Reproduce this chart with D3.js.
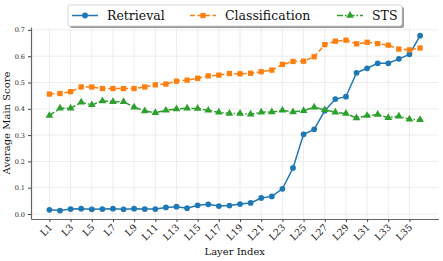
<!DOCTYPE html>
<meta charset="utf-8">
<script src="https://d3js.org/d3.v7.min.js"></script>
<style>
  body { margin: 0; background: #fff; }
  svg text { font-family: "DejaVu Serif", "Liberation Serif", serif; }
</style>
<div id="chart"></div>
<script>

// layer names and the three series
const layers = d3.range(1, 37).map(function(i) { return "L" + i; });

const retrieval = [0.016, 0.013, 0.019, 0.020, 0.018, 0.019, 0.020, 0.018, 0.020, 0.019,
  0.019, 0.025, 0.028, 0.022, 0.033, 0.037, 0.030, 0.032, 0.038, 0.042,
  0.061, 0.067, 0.096, 0.175, 0.303, 0.322, 0.393, 0.437, 0.446, 0.537,
  0.554, 0.573, 0.573, 0.590, 0.607, 0.678];

const classification = [0.456, 0.458, 0.465, 0.483, 0.483, 0.477, 0.477, 0.477, 0.477, 0.483,
  0.491, 0.494, 0.505, 0.509, 0.516, 0.525, 0.528, 0.534, 0.533, 0.535,
  0.541, 0.547, 0.569, 0.580, 0.581, 0.598, 0.644, 0.657, 0.661, 0.647,
  0.653, 0.648, 0.642, 0.627, 0.624, 0.631];

const sts = [0.374, 0.402, 0.402, 0.425, 0.415, 0.430, 0.427, 0.427, 0.406, 0.392,
  0.385, 0.394, 0.399, 0.402, 0.401, 0.394, 0.387, 0.382, 0.382, 0.379,
  0.387, 0.388, 0.394, 0.388, 0.393, 0.406, 0.396, 0.387, 0.382, 0.365,
  0.374, 0.378, 0.366, 0.372, 0.360, 0.358];

const yTicks = [0.0, 0.1, 0.2, 0.3, 0.4, 0.5, 0.6, 0.7];

const series = [
  {name: "Retrieval", values: retrieval, color: "#1f77b4", dash: null, marker: d3.symbolCircle, size: 26},
  {name: "Classification", values: classification, color: "#ff7f0e", dash: "5,2.5", marker: d3.symbolSquare, size: 28},
  {name: "STS", values: sts, color: "#2ca02c", dash: "6,2,1.5,2", marker: d3.symbolTriangle, size: 26}
];

const W = 443, H = 261;
const margin = {top: 27, right: 4.5, bottom: 42, left: 31};
const serif = "DejaVu Serif, Liberation Serif, serif";

const svg = d3.select("#chart").append("svg")
  .attr("width", W)
  .attr("height", H)
  .attr("font-family", serif);

const x = d3.scalePoint()
  .domain(layers)
  .range([margin.left, W - margin.right])
  .padding(1.74);

const y = d3.scaleLinear()
  .domain([-0.019, 0.711])
  .range([H - margin.bottom, margin.top]);

// grid
const tickLayers = layers.filter(function(d, i) { return i % 2 === 0; });
svg.append("g")
  .selectAll("line")
  .data(tickLayers)
  .join("line")
    .attr("x1", function(d) { return x(d); })
    .attr("x2", function(d) { return x(d); })
    .attr("y1", margin.top)
    .attr("y2", H - margin.bottom)
    .attr("stroke", "#e8e8e8")
    .attr("stroke-width", 0.8);

svg.append("g")
  .selectAll("line")
  .data(yTicks)
  .join("line")
    .attr("x1", margin.left)
    .attr("x2", W - margin.right)
    .attr("y1", function(d) { return y(d); })
    .attr("y2", function(d) { return y(d); })
    .attr("stroke", "#e8e8e8")
    .attr("stroke-width", 0.8);

// axes
const xAxis = svg.append("g")
  .attr("transform", `translate(0,${H - margin.bottom})`)
  .call(d3.axisBottom(x).tickValues(tickLayers).tickSize(3).tickSizeOuter(0));

xAxis.attr("font-family", serif);
xAxis.selectAll("text")
  .attr("font-size", 9.5)
  .attr("fill", "#222")
  .attr("text-anchor", "end")
  .attr("x", -1)
  .attr("y", 5)
  .attr("dy", "0.6em")
  .attr("transform", "rotate(-45,-1,5)");

const yAxis = svg.append("g")
  .attr("transform", `translate(${margin.left},0)`)
  .call(d3.axisLeft(y).tickValues(yTicks).tickFormat(d3.format(".1f")).tickSize(3).tickSizeOuter(0));

yAxis.attr("font-family", serif);
yAxis.selectAll("text")
  .attr("font-size", 6.5)
  .attr("fill", "#222");

svg.selectAll(".domain").attr("stroke", "#666").attr("stroke-width", 1.2);
svg.selectAll(".tick line").attr("stroke", "#444");

// axis titles
svg.append("text")
  .attr("x", (margin.left + W - margin.right) / 2)
  .attr("y", 255)
  .attr("text-anchor", "middle")
  .attr("font-size", 10)
  .attr("fill", "#111")
  .text("Layer Index");

svg.append("text")
  .attr("transform", `translate(10,${(margin.top + H - margin.bottom) / 2}) rotate(-90)`)
  .attr("text-anchor", "middle")
  .attr("font-size", 10)
  .attr("fill", "#111")
  .text("Average Main Score");

// lines and markers
series.forEach(function(s) {
  const pts = s.values.map(function(v, i) { return [layers[i], v]; });
  svg.append("path")
    .datum(pts)
    .attr("fill", "none")
    .attr("stroke", s.color)
    .attr("stroke-width", 1.5)
    .attr("stroke-dasharray", s.dash)
    .attr("d", d3.line()
      .x(function(d) { return x(d[0]); })
      .y(function(d) { return y(d[1]); }));

  svg.append("g")
    .selectAll("path")
    .data(pts)
    .join("path")
      .attr("transform", function(d) { return `translate(${x(d[0])},${y(d[1])})`; })
      .attr("d", d3.symbol().type(s.marker).size(s.size))
      .attr("fill", s.color);
});

// legend
const legend = svg.append("g");
legend.append("rect")
  .attr("x", 70).attr("y", 7)
  .attr("width", 334).attr("height", 21)
  .attr("rx", 2)
  .attr("fill", "#999");
legend.append("rect")
  .attr("x", 68).attr("y", 5)
  .attr("width", 334).attr("height", 21)
  .attr("rx", 2)
  .attr("fill", "#fff")
  .attr("stroke", "#ccc")
  .attr("stroke-width", 0.8);

const legendX = [72, 190, 337];
series.forEach(function(s, i) {
  const lx = legendX[i], ly = 15.5;
  legend.append("line")
    .attr("x1", lx).attr("x2", lx + 26)
    .attr("y1", ly).attr("y2", ly)
    .attr("stroke", s.color)
    .attr("stroke-width", 1.5)
    .attr("stroke-dasharray", s.dash);
  legend.append("path")
    .attr("transform", `translate(${lx + 13},${ly})`)
    .attr("d", d3.symbol().type(s.marker).size(s.size))
    .attr("fill", s.color);
  legend.append("text")
    .attr("x", lx + 35)
    .attr("y", ly + 4.5)
    .attr("font-size", 12.5)
    .attr("fill", "#111")
    .text(s.name);
});

</script>
